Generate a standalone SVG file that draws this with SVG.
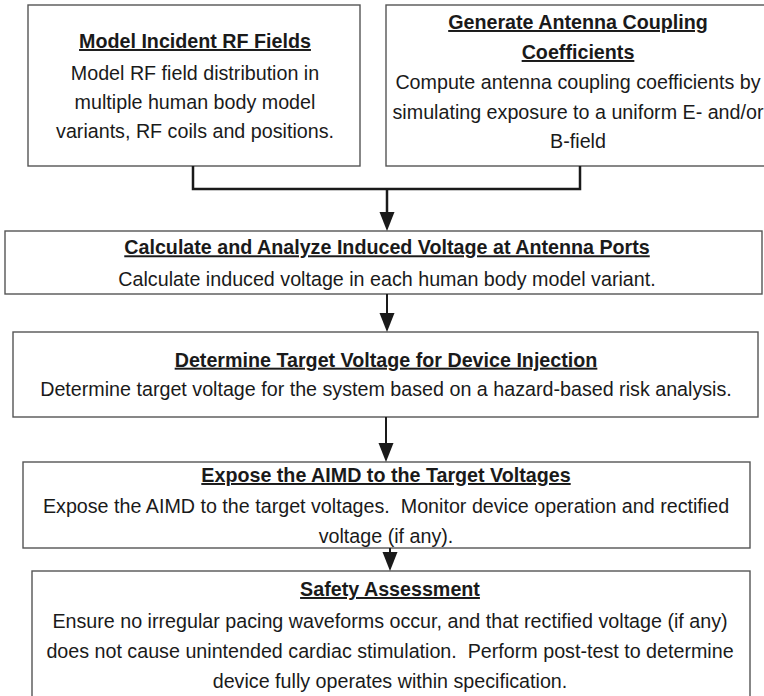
<svg xmlns="http://www.w3.org/2000/svg" width="764" height="696" viewBox="0 0 764 696">
  <style>
    .box { fill: #ffffff; stroke: #555555; stroke-width: 1.4; }
    .t { font-family: "Liberation Sans", Arial, sans-serif; font-size: 19.7px; fill: #1a1a1a; text-anchor: middle; }
    .h { font-weight: bold; text-decoration: underline; }
    .conn { fill: none; stroke: #1a1a1a; stroke-width: 2.5; }
    .conn2 { fill: none; stroke: #1a1a1a; stroke-width: 2; }
  </style>
  <defs>
    <marker id="ah" markerUnits="userSpaceOnUse" markerWidth="20" markerHeight="16" refX="0" refY="7.5" orient="auto">
      <path d="M0,0 L19,7.5 L0,15 z" fill="#1a1a1a"/>
    </marker>
  </defs>
  <rect width="764" height="696" fill="#ffffff"/>

  <g id="node-model-incident">
    <rect class="box" x="28" y="5" width="332" height="161"/>
    <text class="t h" x="195" y="48">Model Incident RF Fields</text>
    <text class="t" x="195" y="80">Model RF field distribution in</text>
    <text class="t" x="195" y="109">multiple human body model</text>
    <text class="t" x="195" y="138">variants, RF coils and positions.</text>
  </g>

  <g id="node-antenna-coupling">
    <rect class="box" x="386" y="5" width="394" height="161"/>
    <text class="t h" x="578" y="29">Generate Antenna Coupling</text>
    <text class="t h" x="578" y="59">Coefficients</text>
    <text class="t" x="578" y="89">Compute antenna coupling coefficients by</text>
    <text class="t" x="578" y="118.5">simulating exposure to a uniform E- and/or</text>
    <text class="t" x="578" y="148">B-field</text>
  </g>

  <g id="node-induced-voltage">
    <rect class="box" x="5" y="231" width="757" height="63"/>
    <text class="t h" x="387" y="254.3">Calculate and Analyze Induced Voltage at Antenna Ports</text>
    <text class="t" x="387" y="285.7">Calculate induced voltage in each human body model variant.</text>
  </g>

  <g id="node-target-voltage">
    <rect class="box" x="13" y="332" width="745" height="85"/>
    <text class="t h" x="386" y="366.7">Determine Target Voltage for Device Injection</text>
    <text class="t" x="386" y="396">Determine target voltage for the system based on a hazard-based risk analysis.</text>
  </g>

  <g id="node-expose">
    <rect class="box" x="23" y="462" width="727" height="86"/>
  </g>

  <g id="node-safety">
    <rect class="box" x="32" y="571" width="718" height="140"/>
    <text class="t h" x="390" y="596">Safety Assessment</text>
    <text class="t" x="390" y="627.7">Ensure no irregular pacing waveforms occur, and that rectified voltage (if any)</text>
    <text class="t" x="390" y="657.7" xml:space="preserve">does not cause unintended cardiac stimulation.  Perform post-test to determine</text>
    <text class="t" x="390" y="687.7">device fully operates within specification.</text>
  </g>

  <g id="connectors">
    <path class="conn" d="M193,166 V189 H580 V166"/>
    <path class="conn" d="M387,189 V212" marker-end="url(#ah)"/>
    <path class="conn2" d="M387,294 V313" marker-end="url(#ah)"/>
    <path class="conn2" d="M386,417 V443" marker-end="url(#ah)"/>
    <path class="conn2" d="M390,548 V552" marker-end="url(#ah)"/>
  </g>

  <g id="node-expose-text">
    <text class="t h" x="386" y="482">Expose the AIMD to the Target Voltages</text>
    <text class="t" x="386" y="512.7" xml:space="preserve">Expose the AIMD to the target voltages.  Monitor device operation and rectified</text>
    <text class="t" x="386" y="542.7">voltage (if any).</text>
  </g>
</svg>
